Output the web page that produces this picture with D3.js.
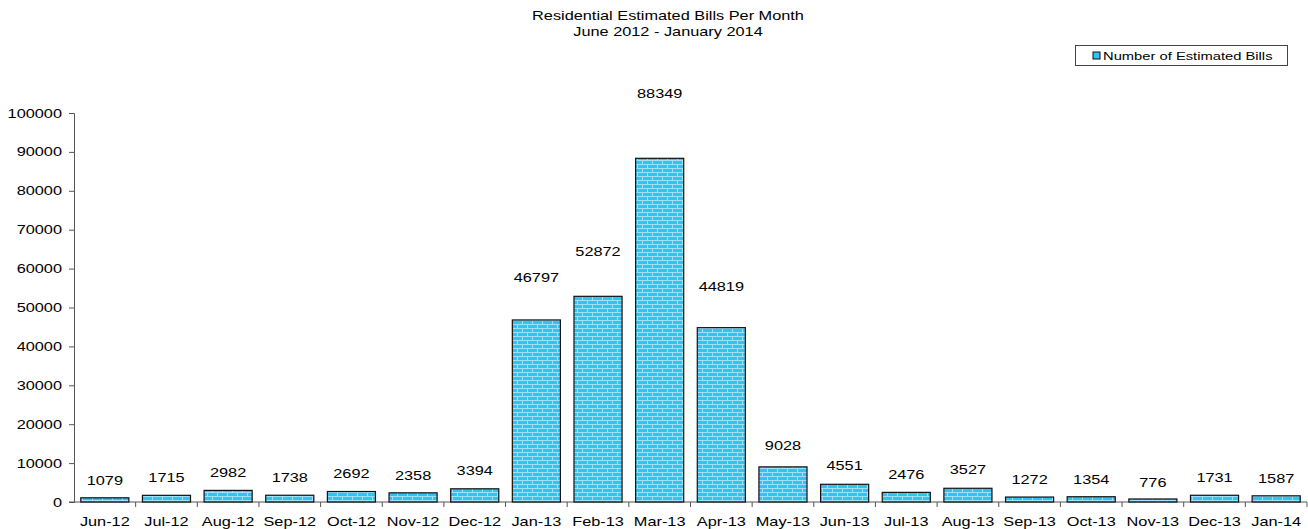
<!DOCTYPE html>
<html>
<head>
<meta charset="utf-8">
<script src="https://cdn.jsdelivr.net/npm/d3@7"></script>
<style>
  body { margin: 0; background: #fff; }
  text { font-family: "Liberation Sans", Arial, sans-serif; fill: #000; }
</style>
</head>
<body>
<div id="chart"></div>
<script>
var months = ["Jun-12","Jul-12","Aug-12","Sep-12","Oct-12","Nov-12","Dec-12","Jan-13","Feb-13","Mar-13",
              "Apr-13","May-13","Jun-13","Jul-13","Aug-13","Sep-13","Oct-13","Nov-13","Dec-13","Jan-14"];
var bills = [1079,1715,2982,1738,2692,2358,3394,46797,52872,88349,
             44819,9028,4551,2476,3527,1272,1354,776,1731,1587];
var yTicks = [0,10000,20000,30000,40000,50000,60000,70000,80000,90000,100000];
var seriesName = "Number of Estimated Bills";

// the original picture is stretched sideways, so text is wide
var SX = 1.36;
function wide(x, y) { return "translate(" + x + "," + y + ") scale(" + SX + ",1)"; }

var svg = d3.select("#chart")
    .append("svg")
    .attr("width", 1308)
    .attr("height", 529);

// brick fill like the excel chart
var defs = svg.append("defs");
var pat = defs.append("pattern")
    .attr("id", "brick")
    .attr("patternUnits", "userSpaceOnUse")
    .attr("width", 10)
    .attr("height", 8);
pat.append("rect").attr("width", 10).attr("height", 8).attr("fill", "#33c3f3");
pat.append("path")
    .attr("d", "M0,0.5H10M0,4.5H10M2.5,0V4M7.5,4V8")
    .attr("stroke", "#9ee2f9")
    .attr("stroke-width", 1)
    .attr("fill", "none");

var x = d3.scaleBand()
    .domain(months)
    .range([74, 1307])
    .paddingInner(0.22)
    .paddingOuter(0.11);

var xb = d3.scaleBand().domain(months).range([74, 1307]);

var y = d3.scaleLinear()
    .domain([0, 100000])
    .range([502, 113]);

// title
svg.append("text")
    .attr("transform", wide(668, 20))
    .attr("text-anchor", "middle")
    .style("font-size", "12px")
    .text("Residential Estimated Bills Per Month");
svg.append("text")
    .attr("transform", wide(668, 36))
    .attr("text-anchor", "middle")
    .style("font-size", "12px")
    .text("June 2012 - January 2014");

// y axis
var gy = svg.append("g")
    .attr("transform", "translate(74,0)")
    .call(d3.axisLeft(y).tickValues(yTicks).tickSize(5).tickFormat(""));
gy.select(".domain").attr("stroke", "#555");
gy.selectAll(".tick line").attr("stroke", "#555");
gy.selectAll(".ylbl")
    .data(yTicks)
    .enter().append("text")
    .attr("transform", function(d) { return wide(-12, y(d) + 4.5); })
    .attr("text-anchor", "end")
    .style("font-size", "12px")
    .text(function(d) { return d; });

// x axis, ticks at band boundaries
var gx = svg.append("g")
    .attr("transform", "translate(0,502)");
gx.append("line")
    .attr("x1", 69).attr("x2", 1307)
    .attr("stroke", "#555");
gx.selectAll(".bt")
    .data(months)
    .enter().append("line")
    .attr("x1", function(d) { return xb(d) + xb.bandwidth(); })
    .attr("x2", function(d) { return xb(d) + xb.bandwidth(); })
    .attr("y1", 0).attr("y2", 5)
    .attr("stroke", "#555");
gx.selectAll(".lbl")
    .data(months)
    .enter().append("text")
    .attr("transform", function(d) { return wide(xb(d) + xb.bandwidth() / 2, 24); })
    .attr("text-anchor", "middle")
    .style("font-size", "12px")
    .text(function(d) { return d; });

// bars
svg.append("g")
    .selectAll("rect")
    .data(bills)
    .enter().append("rect")
    .attr("x", function(d, i) { return x(months[i]); })
    .attr("y", function(d) { return y(d); })
    .attr("width", x.bandwidth())
    .attr("height", function(d) { return y(0) - y(d); })
    .attr("fill", "url(#brick)")
    .attr("stroke", "#111")
    .attr("stroke-width", 1.2);

// value labels (excel put them higher for tall bars)
svg.append("g")
    .selectAll("text")
    .data(bills)
    .enter().append("text")
    .attr("transform", function(d, i) { return wide(x(months[i]) + x.bandwidth() / 2, y(d * 1.14) - 12); })
    .attr("text-anchor", "middle")
    .style("font-size", "12px")
    .text(function(d) { return d; });

// legend
var lg = svg.append("g");
lg.append("rect")
    .attr("x", 1075.5).attr("y", 45.5)
    .attr("width", 212).attr("height", 20)
    .attr("fill", "#fff")
    .attr("stroke", "#444");
lg.append("rect")
    .attr("x", 1093).attr("y", 52)
    .attr("width", 7).attr("height", 7)
    .attr("fill", "#33c3f3")
    .attr("stroke", "#111");
lg.append("text")
    .attr("transform", "translate(1103,60) scale(1.34,1)")
    .style("font-size", "11px")
    .text(seriesName);
</script>
</body>
</html>
